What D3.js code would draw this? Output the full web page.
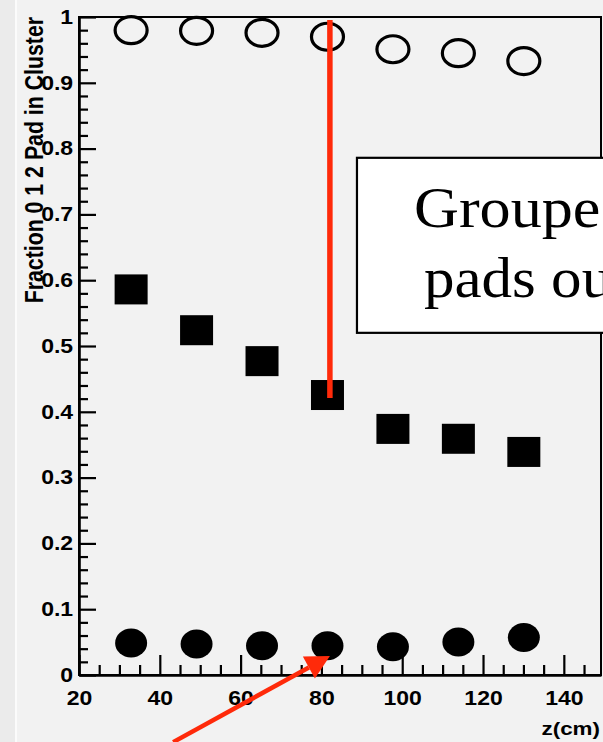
<!DOCTYPE html>
<html>
<head>
<meta charset="utf-8">
<script src="https://cdn.jsdelivr.net/npm/d3@7"></script>
<style>
	html, body { margin: 0; padding: 0; background: #f2f2f2; }
	svg { display: block; }
</style>
</head>
<body>
<div id="chart"></div>
<script>
	// z positions (cm) of the measurement points
	var zValues = [32.9, 49.1, 65.3, 81.5, 97.7, 113.9, 130.1];
	// fractions
	var fracZero = [0.980, 0.979, 0.976, 0.970, 0.951, 0.945, 0.933];   // open circles
	var fracOne = [0.586, 0.524, 0.477, 0.4255, 0.374, 0.359, 0.339];   // filled squares
	var fracTwo = [0.0486, 0.047, 0.0446, 0.0446, 0.043, 0.050, 0.057]; // filled circles

	var xTicks = [20, 40, 60, 80, 100, 120, 140];
	var yTicks = [0, 0.1, 0.2, 0.3, 0.4, 0.5, 0.6, 0.7, 0.8, 0.9, 1];
	var yTitle = 'Fraction 0 1 2 Pad in Cluster';
	var xTitle = 'z(cm)';
	var boxLines = ['Groupe', 'pads ou'];

	var width = 603, height = 742;
	var stretch = 1.18; // the original picture is a bit wider than tall

	var svg = d3.select('#chart').append('svg')
		.attr('width', width)
		.attr('height', height);

	svg.append('rect').attr('width', width).attr('height', height).attr('fill', '#f2f2f2');
	svg.append('rect').attr('width', 15).attr('height', height).attr('fill', '#ebebeb');
	svg.append('rect').attr('x', 15).attr('width', 2).attr('height', height).attr('fill', '#fbfbfb');

	var x = d3.scaleLinear().domain([20, 149.2]).range([79, 601]);
	var y = d3.scaleLinear().domain([0, 1]).range([675, 17]);

	// frame
	svg.append('rect')
		.attr('x', x(20)).attr('y', y(1))
		.attr('width', x(149.2) - x(20)).attr('height', y(0) - y(1))
		.attr('fill', 'none').attr('stroke', '#000').attr('stroke-width', 2);

	var labelFont = '"Liberation Sans", Arial, Helvetica, sans-serif';

	// minor ticks
	var xMinor = d3.range(20, 149, 5).filter(function (v) { return v % 20 !== 0; });
	var yMinor = d3.range(0, 50).map(function (i) { return i * 0.02; }).filter(function (v, i) { return i % 5 !== 0; });

	svg.append('g')
		.attr('transform', 'translate(0,' + y(0) + ')')
		.call(d3.axisBottom(x).tickValues(xMinor).tickSizeInner(-10).tickSizeOuter(0).tickFormat(''))
		.call(function (g) { g.select('.domain').remove(); });

	svg.append('g')
		.attr('transform', 'translate(' + x(20) + ',0)')
		.call(d3.axisLeft(y).tickValues(yMinor).tickSizeInner(-9).tickSizeOuter(0).tickFormat(''))
		.call(function (g) { g.select('.domain').remove(); });

	// major ticks + labels
	var xAxis = svg.append('g')
		.attr('transform', 'translate(0,' + y(0) + ')')
		.call(d3.axisBottom(x).tickValues(xTicks).tickSizeInner(-20).tickSizeOuter(0).tickPadding(16).tickFormat(d3.format('d')));

	var yAxis = svg.append('g')
		.attr('transform', 'translate(' + x(20) + ',0)')
		.call(d3.axisLeft(y).tickValues(yTicks).tickSizeInner(-17).tickSizeOuter(0).tickPadding(5).tickFormat(function (d) { return d3.format('')(+d.toFixed(1)); }));

	[xAxis, yAxis].forEach(function (g) {
		g.select('.domain').attr('stroke', '#000').attr('stroke-width', 2.6);
		g.selectAll('text')
			.attr('fill', '#000')
			.attr('font-family', labelFont)
			.attr('font-weight', 'bold')
			.attr('font-size', 19.5)
			.attr('transform', 'scale(' + stretch + ',1)');
	});
	svg.selectAll('.tick line').attr('stroke', '#000').attr('stroke-width', 2.2);

	// axis titles
	svg.append('text')
		.attr('transform', 'translate(43,' + y(1) + ') scale(' + stretch + ',1) rotate(-90)')
		.attr('text-anchor', 'end')
		.attr('font-family', labelFont)
		.attr('font-weight', 'bold')
		.attr('font-size', 21.3)
		.text(yTitle);

	svg.append('text')
		.attr('transform', 'translate(600,735) scale(' + stretch + ',1)')
		.attr('text-anchor', 'end')
		.attr('font-family', labelFont)
		.attr('font-weight', 'bold')
		.attr('font-size', 19)
		.text(xTitle);

	// markers
	var pts = zValues.map(function (z, i) {
		return {z: z, f0: fracZero[i], f1: fracOne[i], f2: fracTwo[i]};
	});

	svg.append('g').selectAll('ellipse')
		.data(pts)
		.enter().append('ellipse')
		.attr('cx', function (d) { return x(d.z); })
		.attr('cy', function (d) { return y(d.f0); })
		.attr('rx', 16)
		.attr('ry', 13.5)
		.attr('fill', 'none')
		.attr('stroke', '#000')
		.attr('stroke-width', 3.2);

	svg.append('g').selectAll('rect')
		.data(pts)
		.enter().append('rect')
		.attr('x', function (d) { return x(d.z) - 16.5; })
		.attr('y', function (d) { return y(d.f1) - 15; })
		.attr('width', 33)
		.attr('height', 30)
		.attr('fill', '#000');

	svg.append('g').selectAll('ellipse')
		.data(pts)
		.enter().append('ellipse')
		.attr('cx', function (d) { return x(d.z); })
		.attr('cy', function (d) { return y(d.f2); })
		.attr('rx', 16)
		.attr('ry', 14.5)
		.attr('fill', '#000');

	// annotation box (runs past the right edge)
	svg.append('rect')
		.attr('x', x(88.8)).attr('y', y(0.786))
		.attr('width', 360).attr('height', y(0.52) - y(0.786))
		.attr('fill', '#fff').attr('stroke', '#000').attr('stroke-width', 2.2);

	var serif = '"Liberation Serif", "Times New Roman", Times, serif';
	svg.append('text')
		.attr('transform', 'translate(414,227) scale(1.11,1)')
		.attr('font-family', serif).attr('font-size', 56)
		.text(boxLines[0]);
	svg.append('text')
		.attr('transform', 'translate(424,297) scale(1.09,1)')
		.attr('font-family', serif).attr('font-size', 56)
		.text(boxLines[1]);

	// red annotations
	var red = '#ff2a0a';
	svg.append('line')
		.attr('x1', x(82.1)).attr('x2', x(82.1))
		.attr('y1', y(0.9954)).attr('y2', y(0.421))
		.attr('stroke', red).attr('stroke-width', 5.5);

	var tail = [x(43.3), y(-0.102)], tip = [x(82.1), y(0.0289)];
	var dx = tip[0] - tail[0], dy = tip[1] - tail[1], len = Math.sqrt(dx * dx + dy * dy);
	var ux = dx / len, uy = dy / len, headLen = 24, headHalf = 12.5;
	var base = [tip[0] - ux * headLen, tip[1] - uy * headLen];

	svg.append('line')
		.attr('x1', tail[0]).attr('y1', tail[1])
		.attr('x2', base[0]).attr('y2', base[1])
		.attr('stroke', red).attr('stroke-width', 4.5);

	svg.append('polygon')
		.attr('points', [
			tip,
			[base[0] - uy * headHalf, base[1] + ux * headHalf],
			[base[0] + uy * headHalf, base[1] - ux * headHalf]
		].map(function (p) { return p.join(','); }).join(' '))
		.attr('fill', red);
</script>
</body>
</html>
